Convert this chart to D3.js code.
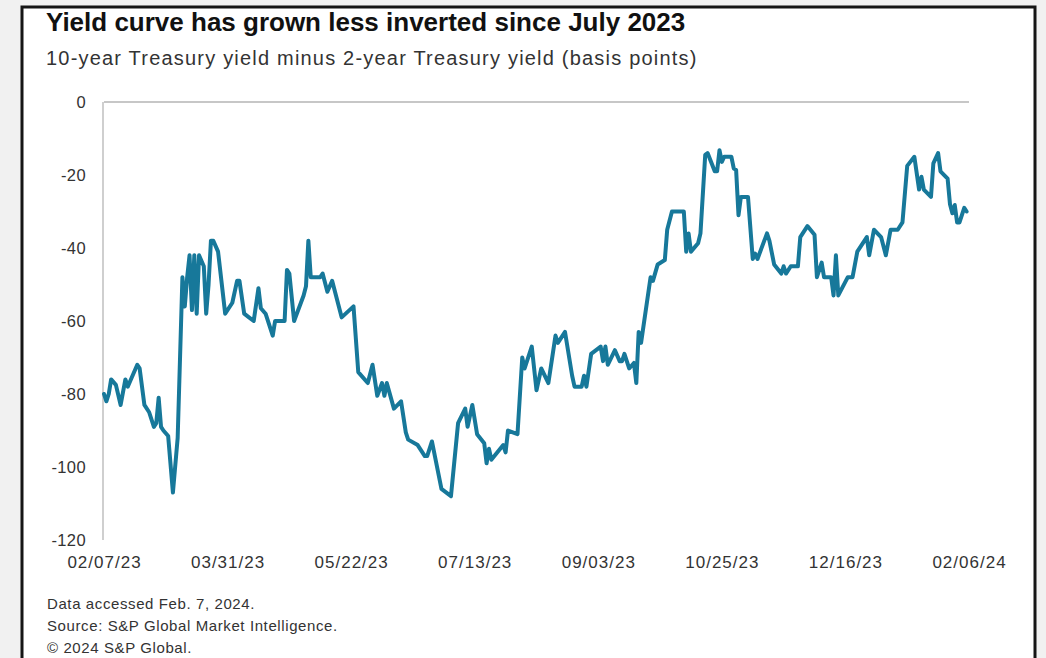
<!DOCTYPE html>
<html><head><meta charset="utf-8">
<script src="https://cdn.jsdelivr.net/npm/d3@7"></script>
<style>
html,body{margin:0;padding:0;background:#f1f1f1;}
svg{display:block;}
</style>
</head><body>
<svg id="chart" width="1046" height="658"></svg>
<script>
// ---- data ----
const startDate = "2023-02-07";
const dayOffsets = [0,1,2,3,5,7,9,10,14,15,17,19,21,22,23,24,25,27,29,31,33,34,35,36,37,38,39,40,42,43,44,45,46,48,51,54,56,57,59,61,63,65,66,68,71,72,76,77,78,80,84,85,86,87,91,92,94,96,100,105,107,111,113,115,117,118,119,122,125,127,128,132,135,136,138,142,146,149,152,153,155,157,160,161,162,163,168,169,170,174,176,177,180,182,184,187,190,191,194,197,198,201,202,203,205,209,210,211,212,215,217,218,219,221,223,224,225,226,230,231,233,236,237,239,244,245,246,247,250,251,253,254,257,258,259,260,261,264,265,266,267,268,271,273,274,275,279,280,282,285,286,287,289,292,293,296,299,300,302,303,306,307,308,309,313,315,317,321,322,324,327,329,331,334,336,338,341,343,344,345,348,349,351,352,355,356,357,358,359,360,362,363];
const spreadBp = [-80,-82,-80,-76,-77.5,-83,-76,-78,-72,-73,-83,-85,-89,-88,-81,-89,-90,-91.5,-107,-92,-48,-56,-48,-42,-57,-42,-58,-42,-45,-58,-50,-38,-38,-41,-58,-55,-49,-49,-58,-59,-60,-51,-56.5,-58,-64,-60,-60,-46,-47,-60,-53,-50.5,-38,-48,-48,-47,-52,-49,-59,-56,-74,-77,-72,-80.5,-77,-80.5,-77,-84,-82,-90.5,-92.5,-94,-97,-97,-93,-106,-108,-88,-84,-89,-83,-91,-93.5,-99,-95,-98,-94,-96,-90,-91,-70,-73,-67,-79,-73,-77,-64,-66,-63,-75,-78,-78,-75,-78,-69,-67,-71,-67,-72,-68,-71,-71,-69,-73,-71.5,-77,-63,-66,-48,-49,-44.5,-43.3,-35,-30,-30,-41,-36,-41,-38.7,-36,-14.5,-14,-19,-19,-13.2,-16.4,-15,-15,-18.2,-18.6,-31,-26,-26,-43,-41.5,-43,-36,-38,-44.5,-47,-45,-47,-45,-45,-37,-34,-36.4,-48,-44,-48,-48,-53,-42,-53,-48,-48,-41,-37,-42,-35,-37,-42,-35,-35,-33,-17.5,-15,-24,-20.5,-24,-26,-16.8,-14,-19,-21,-28,-30.5,-28.2,-33,-33,-29,-30];
const xTickLabels = ["02/07/23","03/31/23","05/22/23","07/13/23","09/03/23","10/25/23","12/16/23","02/06/24"];
const yTickValues = [0,-20,-40,-60,-80,-100,-120];
const titleText = "Yield curve has grown less inverted since July 2023";
const subtitleText = "10-year Treasury yield minus 2-year Treasury yield (basis points)";
const footerLines = ["Data accessed Feb. 7, 2024.","Source: S&P Global Market Intelligence.","© 2024 S&P Global."];

// ---- setup ----
const svg = d3.select("#chart");
const font = "'Liberation Sans', Arial, sans-serif";
const parseStart = d3.timeParse("%Y-%m-%d");
const parseTick = d3.timeParse("%m/%d/%y");
const fmtTick = d3.timeFormat("%m/%d/%y");
const t0 = parseStart(startDate);
const data = dayOffsets.map((d,i)=>({date:d3.timeDay.offset(t0,d), v:spreadBp[i]}));
const tickDates = xTickLabels.map(parseTick);

// background frame
svg.append("rect").attr("x",0).attr("y",0).attr("width",1046).attr("height",658).attr("fill","#f1f1f1");
svg.append("rect").attr("x",22).attr("y",7).attr("width",1013).attr("height",700)
  .attr("fill","#fff").attr("stroke","#151515").attr("stroke-width",3);

const x = d3.scaleTime().domain([tickDates[0], tickDates[tickDates.length-1]]).range([104,969]);
const y = d3.scaleLinear().domain([-120,0]).range([540,102]);

// axes lines
svg.append("line").attr("x1",x.range()[0]).attr("x2",x.range()[1]).attr("y1",y(0)).attr("y2",y(0))
  .attr("stroke","#b5b5b5").attr("stroke-width",1.3);
svg.append("line").attr("x1",103).attr("x2",103).attr("y1",y(0)).attr("y2",y(-120))
  .attr("stroke","#b5b5b5").attr("stroke-width",1.3);

// y axis labels
const yAxis = d3.axisLeft(y).tickValues(yTickValues).tickSize(0).tickPadding(0).tickFormat(d=>String(d));
const gy = svg.append("g").attr("transform","translate(86,0)").call(yAxis);
gy.select(".domain").remove();
gy.selectAll("text").attr("font-family",font).attr("font-size",16.5).attr("fill","#333")
  .attr("letter-spacing","0.4px").attr("dy","0.35em");

// x axis labels
const xAxis = d3.axisBottom(x).tickValues(tickDates).tickSize(0).tickPadding(0).tickFormat(fmtTick);
const gx = svg.append("g").attr("transform","translate(0,555)").call(xAxis);
gx.select(".domain").remove();
gx.selectAll("text").attr("font-family",font).attr("font-size",17).attr("fill","#333")
  .attr("letter-spacing","1px").attr("dy","0.75em");

// line
const line = d3.line().x(d=>x(d.date)).y(d=>y(d.v)).curve(d3.curveLinear);
svg.append("path").datum(data).attr("d",line).attr("fill","none")
  .attr("stroke","#17789a").attr("stroke-width",4).attr("stroke-linejoin","round").attr("stroke-linecap","round");

// titles
svg.append("text").attr("x",46).attr("y",31).text(titleText)
  .attr("font-family",font).attr("font-weight","bold").attr("font-size",26).attr("fill","#111");
svg.append("text").attr("x",46).attr("y",65).text(subtitleText)
  .attr("font-family",font).attr("font-size",20).attr("letter-spacing","1.2px").attr("fill","#333");

// footer
svg.selectAll(".foot").data(footerLines).enter().append("text").attr("class","foot")
  .attr("x",47).attr("y",(d,i)=>609+i*22).text(d=>d)
  .attr("font-family",font).attr("font-size",15).attr("letter-spacing","0.6px").attr("fill","#333");
</script>
</body></html>
